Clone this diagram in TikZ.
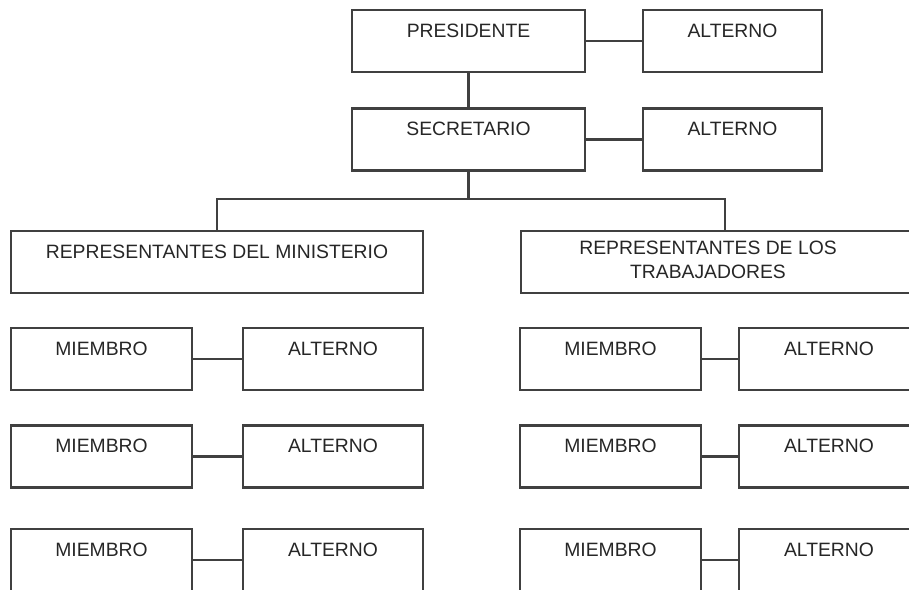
\documentclass[tikz,border=0pt]{standalone}
\usepackage{fontspec}
\setmainfont{Liberation Sans}
\usepackage{tikz}

\begin{document}
\begin{tikzpicture}[x=0.02cm,y=-0.02cm]
\tikzstyle{every node}+=[inner sep=0pt]
\tikzstyle{box}=[draw=black!75, line width=1.3pt, rectangle, minimum height=1.24cm, text depth=0.42cm, font=\fontsize{11}{14}\selectfont, text=black!85]
\tikzstyle{link}=[draw=black!75, line width=1.3pt]
\clip (0,0) rectangle (909,590);
\node [box, minimum width=4.66cm] (pres) at (468.5,41) {PRESIDENTE};
\node [box, minimum width=3.58cm] (altP) at (732.5,41) {ALTERNO};
\node [box, minimum width=4.66cm] (sec) at (468.5,139.5) {SECRETARIO};
\node [box, minimum width=3.58cm] (altS) at (732.5,139.5) {ALTERNO};
\node [box, minimum width=8.24cm] (repM) at (217,262) {REPRESENTANTES DEL MINISTERIO};
\node [box, minimum width=8.16cm] (repT) at (725,262) {};
\node [align=center, font=\fontsize{11}{14}\selectfont, text=black!85] (repTtext) at (708,260) {REPRESENTANTES DE LOS\\TRABAJADORES};
\node [box, minimum width=3.62cm] (miemM1) at (101.5,359) {MIEMBRO};
\node [box, minimum width=3.6cm] (altM1) at (333,359) {ALTERNO};
\node [box, minimum width=3.62cm] (miemM2) at (101.5,456.5) {MIEMBRO};
\node [box, minimum width=3.6cm] (altM2) at (333,456.5) {ALTERNO};
\node [box, minimum width=3.62cm] (miemM3) at (101.5,560) {MIEMBRO};
\node [box, minimum width=3.6cm] (altM3) at (333,560) {ALTERNO};
\node [box, minimum width=3.62cm] (miemT1) at (610.5,359) {MIEMBRO};
\node [box, minimum width=3.6cm] (altT1) at (829,359) {ALTERNO};
\node [box, minimum width=3.62cm] (miemT2) at (610.5,456.5) {MIEMBRO};
\node [box, minimum width=3.6cm] (altT2) at (829,456.5) {ALTERNO};
\node [box, minimum width=3.62cm] (miemT3) at (610.5,560) {MIEMBRO};
\node [box, minimum width=3.6cm] (altT3) at (829,560) {ALTERNO};
\coordinate (bus) at (468.5,199);
\draw [link] (pres) -- (altP);
\draw [link] (sec) -- (altS);
\draw [link] (pres) -- (sec);
\draw [link] (sec) -- (bus);
\draw [link] (repM.north) |- (bus) -| (repT.north);
\draw [link] (miemM1) -- (altM1);
\draw [link] (miemM2) -- (altM2);
\draw [link] (miemM3) -- (altM3);
\draw [link] (miemT1) -- (altT1);
\draw [link] (miemT2) -- (altT2);
\draw [link] (miemT3) -- (altT3);
\end{tikzpicture}
\end{document}
